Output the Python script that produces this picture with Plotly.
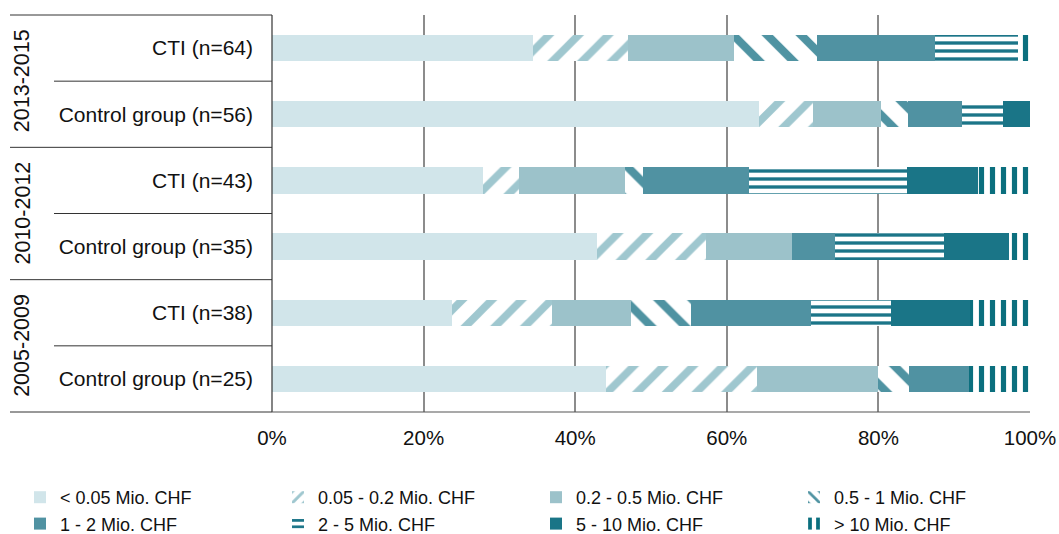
import plotly.graph_objects as go

# Row labels (top to bottom) and period groups
rows = ["CTI (n=64)", "Control group (n=56)",
        "CTI (n=43)", "Control group (n=35)",
        "CTI (n=38)", "Control group (n=25)"]
periods = ["2013-2015", "2010-2012", "2005-2009"]

# Share of firms per funding class, in percent of each row
classes = ["< 0.05 Mio. CHF", "0.05 - 0.2 Mio. CHF", "0.2 - 0.5 Mio. CHF", "0.5 - 1 Mio. CHF",
           "1 - 2 Mio. CHF", "2 - 5 Mio. CHF", "5 - 10 Mio. CHF", "> 10 Mio. CHF"]
lt_005 = [34.4, 64.3, 27.9, 42.9, 23.7, 44.0]
c005_02 = [12.5, 7.1, 4.7, 14.3, 13.2, 20.0]
c02_05 = [14.1, 8.9, 14.0, 11.4, 10.5, 16.0]
c05_1 = [10.9, 3.6, 2.3, 0.0, 7.9, 4.0]
c1_2 = [15.6, 7.1, 14.0, 5.7, 15.8, 8.0]
c2_5 = [10.9, 5.4, 20.9, 14.3, 10.5, 0.0]
c5_10 = [0.0, 3.6, 9.3, 8.6, 10.5, 0.0]
gt_10 = [1.6, 0.0, 7.0, 2.9, 7.9, 8.0]
series = [lt_005, c005_02, c02_05, c05_1, c1_2, c2_5, c5_10, gt_10]

# Fill style per class: (colour, pattern shape, pattern size, solidity)
styles = [
    ("#d1e5ea", "", None, None),
    ("#9fc7cf", "/", 21, 0.36),
    ("#9cc2ca", "", None, None),
    ("#4f93a2", "\\", 24, 0.34),
    ("#5092a2", "", None, None),
    ("#1b7588", "-", 8, 0.42),
    ("#1a7587", "", None, None),
    ("#0b6f7e", "|", 11, 0.47),
]

FONT = "Liberation Sans, Arial, sans-serif"
LINE = "#333333"

fig = go.Figure()
for name, vals, (col, shape, size, sol) in zip(classes, series, styles):
    if shape:
        marker = dict(color="white", line=dict(width=0),
                      pattern=dict(shape=shape, fgcolor=col, bgcolor="white",
                                   size=size, solidity=sol, fillmode="replace"))
    else:
        marker = dict(color=col, line=dict(width=0))
    fig.add_trace(go.Bar(name=name, y=rows, x=vals, orientation="h",
                         marker=marker, hoverinfo="skip"))

# Frame lines of the row header table
shapes = []
n = len(rows)
for k in range(n + 1):
    yy = 1 - k / n
    x0 = -262 / 758 if k % 2 == 0 else -218 / 758
    shapes.append(dict(type="line", xref="paper", yref="paper", x0=x0, x1=0,
                       y0=yy, y1=yy, line=dict(color=LINE, width=1)))
shapes.append(dict(type="line", xref="paper", yref="paper", x0=0, x1=0,
                   y0=0, y1=1, line=dict(color=LINE, width=1.2)))
shapes.append(dict(type="line", xref="paper", yref="paper", x0=0, x1=1,
                   y0=0, y1=0, line=dict(color="#555555", width=1.2)))

# Period labels, rotated, centred on each pair of rows
annotations = []
for i, p in enumerate(periods):
    annotations.append(dict(text=p, xref="paper", yref="paper",
                            x=-250 / 758, y=1 - (2 * i + 1) / n, textangle=-90,
                            showarrow=False, xanchor="center", yanchor="middle",
                            font=dict(family=FONT, size=21.5, color="#111111")))

fig.update_layout(
    barmode="stack",
    bargap=0.6,
    width=1059, height=534,
    margin=dict(l=272, r=29, t=15, b=122, autoexpand=False),
    paper_bgcolor="white", plot_bgcolor="white",
    font=dict(family=FONT, size=20, color="#111111"),
    xaxis=dict(range=[0, 100], tickvals=[0, 20, 40, 60, 80, 100],
               ticktext=["0%", "20%", "40%", "60%", "80%", "100%"],
               showgrid=True, gridcolor="#8c8c8c", gridwidth=1.5,
               zeroline=False, showline=False, ticks="", ticklabelstandoff=11,
               tickfont=dict(family=FONT, size=20.5, color="#111111")),
    yaxis=dict(categoryorder="array", categoryarray=rows, autorange="reversed",
               showgrid=False, zeroline=False, showline=False, ticks="",
               ticklabelstandoff=18,
               tickfont=dict(family=FONT, size=21, color="#111111")),
    legend=dict(orientation="h", x=-252 / 758, xanchor="left",
                y=-67 / 397, yanchor="top", traceorder="normal",
                entrywidth=213, entrywidthmode="pixels",
                font=dict(family=FONT, size=18, color="#111111"),
                itemclick=False, itemdoubleclick=False),
    shapes=shapes,
    annotations=annotations,
)

fig.write_html("out.html")
